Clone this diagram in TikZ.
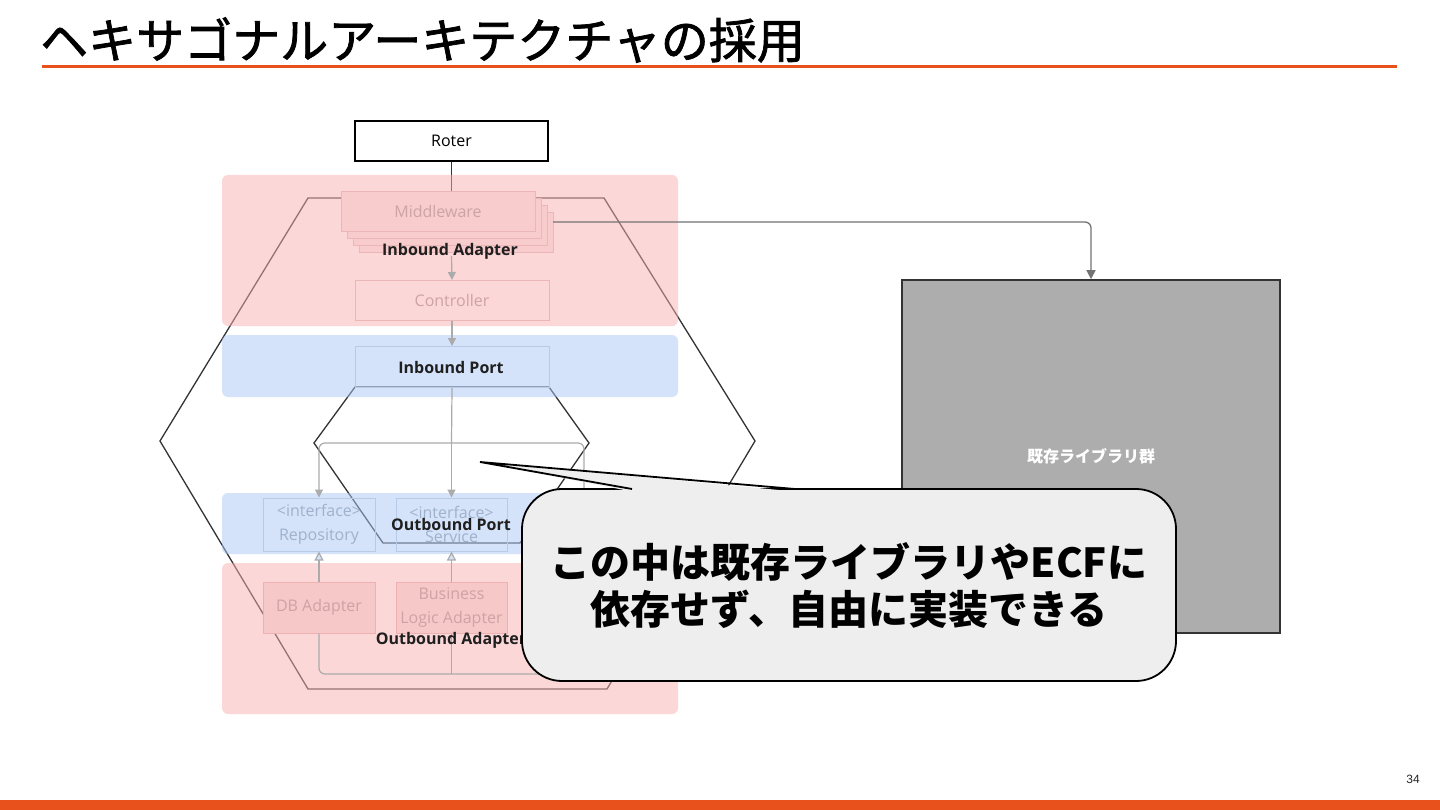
\documentclass[tikz,border=0pt]{standalone}
\usepackage{fontspec}
\setmainfont{Open Sans}
\newfontfamily\jp{Noto Sans CJK JP}
\font\titlefnt="Noto Sans CJK JP:embolden=1.6" at 48pt
\newfontfamily\arialf{Liberation Sans}
\usetikzlibrary{arrows.meta}
\definecolor{orangec}{HTML}{E8501C}
\definecolor{pinkr}{RGB}{251,176,176}
\definecolor{bluer}{RGB}{170,200,247}
\definecolor{hexc}{HTML}{333333}
\definecolor{mwfill}{HTML}{F8CCCC}
\definecolor{mwdraw}{HTML}{EBB6B6}
\definecolor{mwtext}{HTML}{CDA3A3}
\definecolor{bluedraw}{HTML}{B7CAE6}
\definecolor{bluetext}{HTML}{9FB1CB}
\definecolor{adfill}{HTML}{F7C8C8}
\definecolor{addraw}{HTML}{EDB1B1}
\definecolor{conn}{HTML}{ABABAB}
\definecolor{libfill}{HTML}{ADADAD}
\definecolor{callfill}{HTML}{EEEEEE}
\tikzset{
  hexline/.style={draw=hexc, line width=1.3pt, line join=miter},
  region/.style={rounded corners=6pt, fill opacity=0.5},
  mwbox/.style={draw=mwdraw, fill=mwfill, line width=1pt},
  pinkbox/.style={draw=mwdraw, line width=1pt, minimum width=194pt, minimum height=40pt, inner sep=0pt, text=mwtext, font=\fontsize{16}{19}\selectfont},
  bluebox/.style={draw=bluedraw, line width=1pt, inner sep=0pt, text=bluetext, align=center, font=\fontsize{16}{24}\selectfont},
  adbox/.style={draw=addraw, fill=adfill, line width=1pt, inner sep=0pt, text=mwtext, align=center, font=\fontsize{16}{24}\selectfont},
  boldlabel/.style={text=black!88, font=\bfseries\fontsize{16}{19}\selectfont, inner sep=0pt},
  fconn/.style={draw=conn, line width=1.2pt},
  farrow/.style={fconn, -{Triangle[length=8pt,width=8pt]}},
  oarrow/.style={fconn, -{Triangle[open,length=9pt,width=9pt,fill=bluer!50]}},
}
\begin{document}
\begin{tikzpicture}[x=1pt,y=-1pt]
\useasboundingbox (0,0) rectangle (1440,810);
\fill[white] (0,0) rectangle (1440,810);

% title
\node[anchor=west, inner sep=0pt, font=\titlefnt] (title) at (40,40) {ヘキサゴナルアーキテクチャの採用};
\draw[orangec, line width=3pt] (42,67) -- (1397,67);
\fill[orangec] (0,800) rectangle (1440,810);
\node[font=\arialf\fontsize{12}{12}\selectfont, text=black!85, inner sep=0pt] (pnum) at (1413,779) {34};

% Roter
\node[draw=black, line width=1.8pt, fill=white, minimum width=193pt, minimum height=40pt, inner sep=0pt, font=\fontsize{16}{19}\selectfont] (roter) at (451.5,141) {Roter};
\coordinate (mwtop) at (451.5,192);
\draw[hexc, line width=1.3pt] (roter.south) -- (mwtop);

% hexagons
\draw[hexline] (308,198) -- (604,198) -- (755,441) -- (607,689) -- (308,689) -- (160,441) -- cycle;
\draw[hexline] (355,387) -- (549,387) -- (589,443) -- (520,543) -- (383,543) -- (314,443) -- cycle;

% regions
\fill[region, pinkr] (222,175) rectangle (678,326);
\fill[region, bluer] (222,335) rectangle (678,397);
\fill[region, bluer] (222,493) rectangle (678,554);
\fill[region, pinkr] (222,563) rectangle (678,714);

% boxes
\node[pinkbox] (ctrl) at (452,300.5) {Controller};
\node[draw=bluedraw, line width=1pt, minimum width=194pt, minimum height=41pt, inner sep=0pt] (ip) at (452,367) {};
\node[bluebox, minimum width=112pt, minimum height=53pt] (rep) at (319,524.5) {<interface>\\Repository};
\node[bluebox, minimum width=111pt, minimum height=53pt] (svc) at (451.5,524.5) {<interface>\\Service};
\coordinate (stackbot) at (451.5,256);

% connectors (faded)
\draw[farrow] (stackbot) -- (ctrl.north);
\draw[farrow] (ctrl.south) -- (ip.north);
\coordinate (jn) at (451.5,443);
\coordinate (jr) at (584,600);
\draw[fconn] (ip.south) -- (jn);
\draw[farrow, rounded corners=6pt] (jn) -| (rep.north);
\draw[farrow] (jn) -- (svc.north);
\draw[fconn, rounded corners=6pt] (jn) -| (jr);

% middleware stack
\foreach \k in {3,2,1} {
  \draw[mwbox] (341+6*\k, 192+6.7*\k) rectangle ++(194,40);
}
\node[pinkbox, fill=mwfill] (mw) at (438,212) {Middleware};
\coordinate (mwr) at (553,222);

% outbound adapters
\node[adbox, minimum width=112pt, minimum height=51pt] (dba) at (319,607.5) {DB Adapter};
\node[adbox, minimum width=111pt, minimum height=51pt] (bla) at (451.5,607.5) {Business\\Logic Adapter};
\draw[oarrow] (dba.north) -- (rep.south);
\draw[oarrow] (bla.north) -- (svc.south);
\coordinate (bl) at (600,674);
\coordinate (bm) at (451.5,674);
\draw[fconn, rounded corners=6pt] (dba.south) |- (bl);
\draw[fconn] (bla.south) -- (bm);

% bold labels
\node[boldlabel] (lia) at (450,251) {Inbound Adapter};
\node[boldlabel] (lip) at (451,367) {Inbound Port};
\node[boldlabel] (lop) at (451,524) {Outbound Port};
\node[boldlabel] (loa) at (451,640) {Outbound Adapter};

% library block
\node[draw=hexc, fill=libfill, line width=1.6pt, minimum width=378pt, minimum height=353pt, inner sep=0pt] (lib) at (1091,456.5) {};
\node[text=white, font=\jp\bfseries\fontsize{16}{16}\selectfont, inner sep=0pt] (libt) at (1091,456) {既存ライブラリ群};
\draw[draw=black!55, line width=1.3pt, rounded corners=6pt, -{Triangle[length=9pt,width=9pt]}] (mwr) -| (lib.north);

% callout
\draw[fill=callfill, draw=black, line width=1.8pt, rounded corners=40pt] (522,489) rectangle (1176,681);
\fill[callfill] (632,491.5) -- (480,462) -- (795,491.5) -- cycle;
\draw[black, line width=1.8pt, line join=miter] (632,489) -- (480,462) -- (795,489);
\node[font=\jp\bfseries\fontsize{40}{40}\selectfont, inner sep=0pt] (c1) at (849,562) {この中は既存ライブラリやECFに};
\node[font=\jp\bfseries\fontsize{40}{40}\selectfont, inner sep=0pt] (c2) at (849,609) {依存せず、自由に実装できる};
\end{tikzpicture}
\end{document}
